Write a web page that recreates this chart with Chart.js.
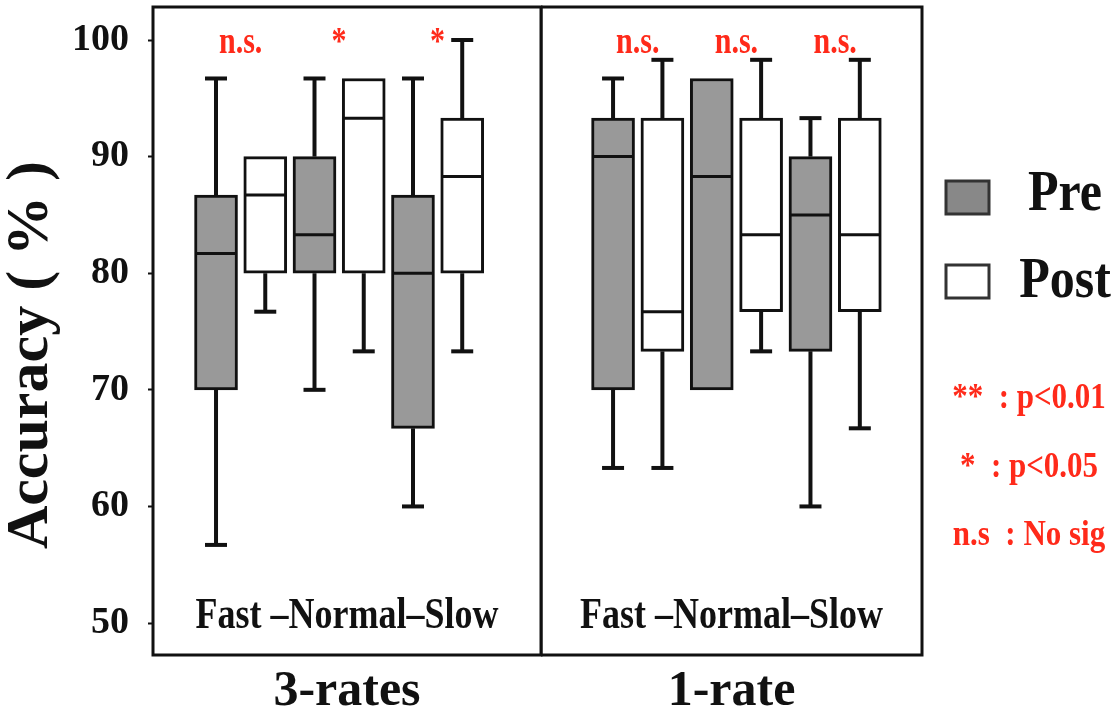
<!DOCTYPE html>
<html>
<head>
<meta charset="utf-8">
<script src="https://cdn.jsdelivr.net/npm/chart.js@4.4.1/dist/chart.umd.min.js"></script>
<style>
  html, body { margin: 0; padding: 0; background: #fff; }
  #wrap { position: relative; width: 1116px; height: 718px; }
  #left { position: absolute; left: 0; top: 0; width: 546px; height: 718px; }
  #right { position: absolute; left: 541px; top: 0; width: 575px; height: 718px; }
</style>
</head>
<body>
<div id="wrap">
  <div id="left"><canvas id="chart3"></canvas></div>
  <div id="right"><canvas id="chart1"></canvas></div>
</div>
<script>
// box stats per rate: [min, q1, median, q3, max]
const rates = ["Fast", "Normal", "Slow"];
const seriesNames = ["Pre", "Post"];
const pre3 = [[56.7, 70, 81.7, 86.7, 96.7], [70, 80, 83.3, 90, 96.7], [60, 66.7, 80, 86.7, 96.7]];
const post3 = [[76.7, 80, 86.7, 90, 90], [73.3, 80, 93.3, 96.7, 96.7], [73.3, 80, 88.3, 93.3, 100]];
const pre1 = [[63.3, 70, 90, 93.3, 96.7], [70, 70, 88.3, 96.7, 96.7], [60, 73.3, 85, 90, 93.3]];
const post1 = [[63.3, 73.3, 76.7, 93.3, 98.3], [73.3, 76.7, 83.3, 93.3, 98.3], [66.7, 76.7, 83.3, 93.3, 98.3]];
const sig3 = ["n.s.", "*", "*"];
const sig1 = ["n.s.", "n.s.", "n.s."];
const yTicks = [50, 60, 70, 80, 90, 100];
const notes = ["**  : p<0.01", "*  : p<0.05", "n.s  : No sig"];

const serif = "'Liberation Serif', 'Times New Roman', serif";
const preFill = "#999999";
const postFill = "#ffffff";
const red = "#ff2a1a";

function drawText(ctx, text, x, y, size, color, sy, align) {
  ctx.save();
  ctx.font = "bold " + size + "px " + serif;
  ctx.fillStyle = color;
  ctx.textAlign = align || "center";
  ctx.textBaseline = "alphabetic";
  ctx.translate(x, y);
  ctx.scale(1, sy);
  ctx.fillText(text, 0, 0);
  ctx.restore();
}

// whiskers, caps and medians on top of the floating bars
const boxPlugin = {
  id: "boxes",
  afterDatasetsDraw(chart) {
    const ctx = chart.ctx;
    const y = chart.scales.y;
    ctx.save();
    ctx.strokeStyle = "#111";
    ctx.lineCap = "butt";
    chart.data.datasets.forEach((ds, k) => {
      const meta = chart.getDatasetMeta(k);
      meta.data.forEach((bar, i) => {
        const s = ds.stats[i];
        const x = bar.x;
        const half = bar.width / 2;
        const line = (x1, y1, x2, y2, w) => {
          ctx.lineWidth = w;
          ctx.beginPath();
          ctx.moveTo(x1, y1);
          ctx.lineTo(x2, y2);
          ctx.stroke();
        };
        if (s[4] > s[3]) {
          line(x, y.getPixelForValue(s[3]), x, y.getPixelForValue(s[4]), 4);
          line(x - 11, y.getPixelForValue(s[4]), x + 11, y.getPixelForValue(s[4]), 4);
        }
        if (s[0] < s[1]) {
          line(x, y.getPixelForValue(s[1]), x, y.getPixelForValue(s[0]), 4);
          line(x - 11, y.getPixelForValue(s[0]), x + 11, y.getPixelForValue(s[0]), 4);
        }
        line(x - half + 1, y.getPixelForValue(s[2]), x + half - 1, y.getPixelForValue(s[2]), 3);
      });
    });
    ctx.restore();
  }
};

const framePlugin = {
  id: "frame",
  afterDraw(chart, args, opts) {
    const ctx = chart.ctx;
    const a = chart.chartArea;
    const xs = chart.scales.x;
    const y = chart.scales.y;
    ctx.save();
    ctx.strokeStyle = "#111";
    ctx.lineWidth = 3;
    ctx.strokeRect(a.left, a.top, a.right - a.left, a.bottom - a.top);
    ctx.restore();

    // significance marks above each Pre/Post pair
    opts.sig.forEach((t, i) => {
      const cx = (xs.getPixelForValue(2 * i) + xs.getPixelForValue(2 * i + 1)) / 2;
      drawText(chart.ctx, t, cx, y.getPixelForValue(98.9), 30, red, 1.25);
    });

    drawText(ctx, rates.join(" –").replace("Normal –", "Normal–"), (a.left + a.right) / 2, a.bottom - 27, 36, "#111", 1.25);

    if (opts.yTitle) {
      ctx.save();
      ctx.translate(47, 355);
      ctx.rotate(-Math.PI / 2);
      drawText(ctx, opts.yTitle, 0, 0, 60, "#111", 1);
      ctx.restore();
    }

    if (opts.legend) {
      const fills = [preFill, postFill];
      const tops = [181, 265];
      const bases = [210, 297];
      seriesNames.forEach((name, k) => {
        ctx.save();
        ctx.fillStyle = k === 0 ? "#888888" : fills[k];
        ctx.strokeStyle = "#333";
        ctx.lineWidth = 3;
        ctx.fillRect(a.right + 24, tops[k], 43, 33);
        ctx.strokeRect(a.right + 24, tops[k], 43, 33);
        ctx.restore();
        drawText(ctx, name, a.right + 143, bases[k], 50, "#111", 1.12);
      });
      const noteBases = [408, 477, 545];
      notes.forEach((t, k) => {
        drawText(ctx, t, a.right + 107, noteBases[k], 31, red, 1.15);
      });
    }
  }
};

function makeChart(id, title, pre, post, sig, xMin, xMax, isLeft) {
  const datasets = [pre, post].map((boxes, k) => ({
    label: seriesNames[k],
    data: boxes.map((b, i) => ({ x: 2 * i + k, y: [b[1], b[3]] })),
    stats: boxes,
    backgroundColor: k === 0 ? preFill : postFill,
    borderColor: "#111",
    borderWidth: 3,
    borderSkipped: false,
    barThickness: 43,
    grouped: false
  }));
  return new Chart(document.getElementById(id), {
    type: "bar",
    data: { datasets: datasets },
    options: {
      responsive: true,
      maintainAspectRatio: false,
      animation: false,
      events: [],
      layout: { padding: { top: 7, left: 0, bottom: 0, right: isLeft ? 5 : 194 } },
      plugins: {
        legend: { display: false },
        tooltip: { enabled: false },
        frame: { sig: sig, yTitle: isLeft ? "Accuracy ( % )" : null, legend: !isLeft }
      },
      scales: {
        x: {
          type: "linear",
          min: xMin,
          max: xMax,
          offset: false,
          ticks: { display: false },
          grid: { display: false },
          border: { display: false },
          title: {
            display: true,
            text: title,
            color: "#111",
            font: { family: serif, size: 50, weight: "bold", lineHeight: 1 },
            padding: { top: 0, bottom: 1 }
          },
          afterFit: (s) => { s.height = 63; s.paddingLeft = 0; s.paddingRight = 0; }
        },
        y: {
          display: isLeft,
          min: 47.26,
          max: 102.83,
          afterBuildTicks: (s) => { s.ticks = yTicks.map(v => ({ value: v })); },
          afterFit: (s) => {
            if (isLeft) s.width = 153;
            s.paddingTop = 0;
            s.paddingBottom = 0;
          },
          ticks: {
            color: "#111",
            padding: 19,
            font: { family: serif, size: 38, weight: "bold" }
          },
          grid: {
            drawOnChartArea: false,
            drawTicks: true,
            tickLength: 5,
            tickWidth: 2,
            color: "#111"
          },
          border: { display: false }
        }
      }
    },
    plugins: [boxPlugin, framePlugin]
  });
}

makeChart("chart3", "3-rates", pre3, post3, sig3, -1.28, 6.6, true);
makeChart("chart1", "1-rate", pre1, post1, sig1, -1.46, 6.26, false);
</script>
</body>
</html>
